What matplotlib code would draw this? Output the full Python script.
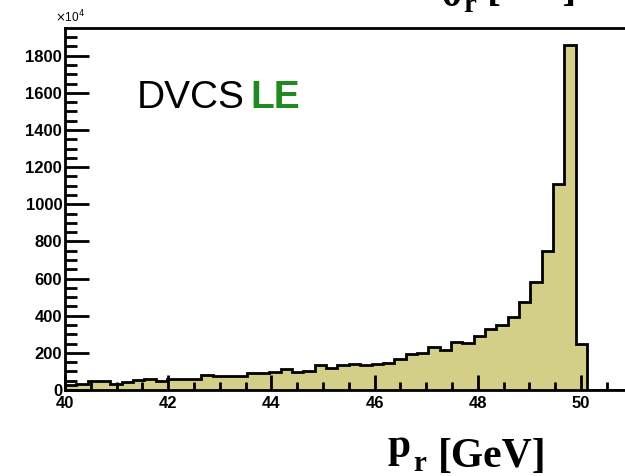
import numpy as np
import matplotlib
matplotlib.use("Agg")
import matplotlib.pyplot as plt
from matplotlib.ticker import MultipleLocator

# Recoil momentum spectrum, counts in units of 10^4 per 0.22 GeV bin (40-51 GeV)
bin_low, bin_high, n_bins = 40.0, 51.0, 50
counts = [27, 34, 47, 47, 34, 42, 53, 59, 50, 60,
          60, 60, 81, 75, 75, 78, 90, 91, 98, 111,
          97, 103, 133, 120, 136, 141, 135, 142, 148, 169,
          194, 197, 231, 217, 258, 253, 291, 327, 352, 391,
          474, 580, 748, 1108, 1856, 246, 0, 0, 0, 0]
x_symbol, x_index, x_unit = "p", "r", "[GeV]"
nb_symbol, nb_index, nb_unit = "\u03b8", "r", "[rad]"
process_text = "DVCS"
tag_text = "LE"

W, H = 625, 476
fig = plt.figure(figsize=(W / 100, H / 100), dpi=100)
fig.patch.set_facecolor("white")

x0, x1 = 65, 65 + 11 * 51.6
y_top, y_bot = 28, 390
ax = fig.add_axes([x0 / W, 1 - y_bot / H, (x1 - x0) / W, (y_bot - y_top) / H])

edges = np.linspace(bin_low, bin_high, n_bins + 1)
ax.stairs(counts, edges, fill=True, facecolor="#d3cf88", edgecolor="none")
ax.stairs(counts, edges, fill=False, color="black", linewidth=2.0, baseline=0)

ax.set_xlim(bin_low, bin_high)
ax.set_ylim(0, 1.05 * max(counts))

for side in ("left", "top", "bottom", "right"):
    ax.spines[side].set_linewidth(2.0)

ax.xaxis.set_major_locator(MultipleLocator(2))
ax.xaxis.set_minor_locator(MultipleLocator(0.5))
ax.yaxis.set_major_locator(MultipleLocator(200))
ax.yaxis.set_minor_locator(MultipleLocator(50))
ax.tick_params(axis="x", which="major", direction="in", length=11, width=2, pad=4)
ax.tick_params(axis="x", which="minor", direction="in", length=5.5, width=2)
ax.tick_params(axis="y", which="major", direction="in", length=17, width=2, pad=2)
ax.tick_params(axis="y", which="minor", direction="in", length=8.5, width=2)
ax.tick_params(top=False, right=False, which="both")

for lab in ax.get_xticklabels() + ax.get_yticklabels():
    lab.set_fontfamily("Liberation Sans")
    lab.set_fontweight("bold")
    lab.set_fontsize(12)

# exponent marker for the y scale
fig.text(55 / W, 1 - 22 / H, r"$\times$10$^{4}$", fontsize=8.5,
         fontfamily="Liberation Sans", ha="left", va="baseline")

# process label
fig.text(137 / W, 1 - 108 / H, process_text, fontsize=28,
         fontfamily="Liberation Sans", ha="left", va="baseline")
fig.text(250 / W, 1 - 108 / H, tag_text, fontsize=28, fontweight="bold",
         color="#1f8a1f", fontfamily="Liberation Sans", ha="left", va="baseline")


def axis_title(x_sym, y_sym, x_idx, y_idx, x_unit_pos, y_unit, sym, idx, unit):
    """Bold serif title: raised symbol, lowered index, then the unit."""
    kw = dict(fontfamily="Liberation Serif", fontweight="bold",
              ha="left", va="baseline")
    fig.text(x_sym / W, 1 - y_sym / H, sym, fontsize=30, **kw)
    fig.text(x_idx / W, 1 - y_idx / H, idx, fontsize=21, **kw)
    fig.text(x_unit_pos / W, 1 - y_unit / H, unit, fontsize=30, **kw)


# axis title
axis_title(388, 457, 413, 471, 438, 467, x_symbol, x_index, x_unit)
# title of the neighbouring pad, clipped by the top edge
axis_title(440, 6, 463, 12, 487, 0, nb_symbol, nb_index, nb_unit)

fig.savefig("out.png", dpi=100, facecolor="white")
